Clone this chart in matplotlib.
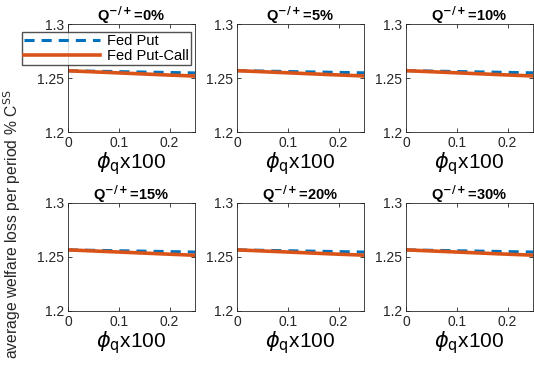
import matplotlib

matplotlib.use("Agg")
import matplotlib.pyplot as plt
from matplotlib import font_manager

plt.rcParams["font.family"] = ["Liberation Sans", "DejaVu Sans"]
plt.rcParams["mathtext.fontset"] = "dejavusans"

PHI = [0.0, 0.05, 0.10, 0.15, 0.20, 0.25]
Q_LABELS = ["0%", "5%", "10%", "15%", "20%", "30%"]

FED_PUT = [
    [1.2567, 1.2563, 1.2559, 1.2555, 1.2551, 1.2547],
    [1.2568, 1.2564, 1.2560, 1.2556, 1.2552, 1.2548],
    [1.2568, 1.2564, 1.2560, 1.2556, 1.2552, 1.2548],
    [1.2566, 1.2562, 1.2558, 1.2554, 1.2550, 1.2546],
    [1.2566, 1.2562, 1.2558, 1.2554, 1.2550, 1.2546],
    [1.2566, 1.2562, 1.2558, 1.2554, 1.2550, 1.2546],
]
FED_PUT_CALL = [
    [1.2567, 1.2557, 1.2547, 1.2537, 1.2527, 1.2518],
    [1.2568, 1.2558, 1.2548, 1.2538, 1.2528, 1.2519],
    [1.2568, 1.2558, 1.2548, 1.2538, 1.2528, 1.2519],
    [1.2566, 1.2556, 1.2546, 1.2536, 1.2526, 1.2516],
    [1.2566, 1.2556, 1.2546, 1.2536, 1.2526, 1.2517],
    [1.2566, 1.2556, 1.2546, 1.2536, 1.2526, 1.2517],
]

BLUE = "#0072BD"
ORANGE = "#D95319"

W, H = 534, 370
lefts = [68, 237, 406]
bottoms = [H - 132, H - 311]
aw, ah = 127, 108

names = {f.name for f in font_manager.fontManager.ttflist}
ylab_family = "Liberation Sans Narrow" if "Liberation Sans Narrow" in names else "Liberation Sans"

fig = plt.figure(figsize=(W / 100, H / 100), dpi=100)
axes = []
for i in range(6):
    r, c = divmod(i, 3)
    ax = fig.add_axes([lefts[c] / W, bottoms[r] / H, aw / W, ah / H])
    ax.plot(PHI, FED_PUT[i], color=BLUE, linestyle=(0, (3.3, 2.3)), linewidth=2.2,
            label="Fed Put")
    ax.plot(PHI, FED_PUT_CALL[i], color=ORANGE, linewidth=2.6, label="Fed Put-Call")
    ax.set_xlim(0, 0.25)
    ax.set_ylim(1.2, 1.3)
    ax.set_xticks([0, 0.1, 0.2])
    ax.set_xticklabels(["0", "0.1", "0.2"])
    ax.set_yticks([1.2, 1.25, 1.3])
    ax.set_yticklabels(["1.2", "1.25", "1.3"])
    ax.tick_params(direction="in", top=True, right=True, labelsize=10,
                   length=3, width=0.6, colors="#262626", pad=3)
    for s in ax.spines.values():
        s.set_linewidth(0.6)
        s.set_color("#262626")
    ax.set_title(r"Q$^{\mathbf{-/+}}$=" + Q_LABELS[i], fontsize=10.5, fontweight="bold", pad=2)
    ax.set_xlabel(r"$\phi_{\rm q}$x100", fontsize=15, labelpad=0)
    axes.append(ax)

axes[0].legend(loc="upper left", bbox_to_anchor=(22 / W, 1 - 32 / H),
               bbox_transform=fig.transFigure, fontsize=10.5, frameon=True,
               fancybox=False, edgecolor="#262626", handlelength=5.2,
               borderpad=0.15, labelspacing=0.05, handletextpad=0.5,
               borderaxespad=0)

fig.text(12 / W, 1 - 224 / H, "average welfare loss per period % C$^{\\rm SS}$",
         rotation=90, va="center", ha="center", fontsize=11.3,
         family=[ylab_family, "DejaVu Sans"], color="#262626")

fig.savefig("out.png", dpi=100)
